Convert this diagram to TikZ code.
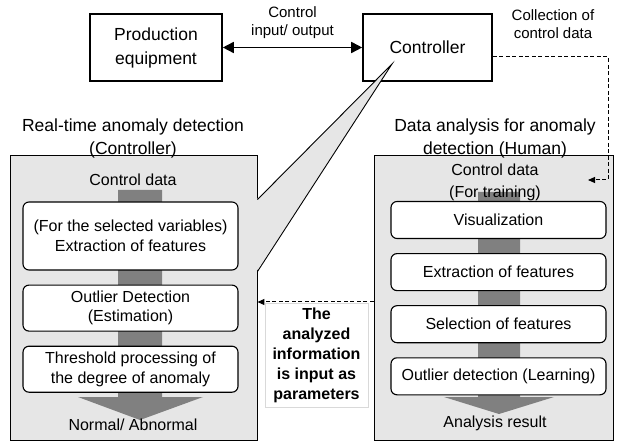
\documentclass[tikz,border=0pt]{standalone}
\usepackage{fontspec}
\setmainfont{Liberation Sans}
\usetikzlibrary{arrows.meta,positioning}

\definecolor{panelgray}{RGB}{230,230,230}
\definecolor{flowgray}{RGB}{128,128,128}

\begin{document}
\begin{tikzpicture}[x=1pt,y=1pt,>={Triangle[length=7pt,width=6pt]},node distance=14pt,
    unit/.style={draw,line width=1.6pt,minimum width=132pt,minimum height=67pt,align=center,font=\fontsize{17.5}{24}\selectfont},
    panel/.style={draw,line width=0.9pt,fill=panelgray,minimum height=285pt},
    stepbox/.style={draw,fill=white,line width=1.1pt,rounded corners=6pt,minimum width=215pt,align=center,font=\fontsize{16}{19.5}\selectfont},
    note/.style={align=center,font=\fontsize{15}{17.5}\selectfont},
    title/.style={align=center,font=\fontsize{17.5}{23}\selectfont},
    feed/.style={dash pattern=on 4pt off 2.5pt,line width=1pt}]

    \useasboundingbox (0,0) rectangle (618,-443);

    % top row
    \node[unit] (prod) at (156,-47.5) {Production\\equipment};
    \node[unit,minimum width=129pt] (ctrl) at (427.5,-47.5) {Controller};
    \draw[{Triangle[length=11pt,width=11pt]}-{Triangle[length=11pt,width=11pt]},line width=1.6pt] (prod) -- node[note,above=5pt] (io) {Control\\input/ output} (ctrl);
    \node[note] (coll) at (553,-24) {Collection of\\control data};

    % the two panels
    \node[panel,minimum width=247pt] (lpanel) at (133.5,-297.5) {};
    \node[panel,minimum width=239pt] (rpanel) at (493.5,-297.5) {};
    \node[title] (ltitle) at (133,-138.5) {Real-time anomaly detection\\(Controller)};
    \node[title] (rtitle) at (495,-138.5) {Data analysis for anomaly\\detection (Human)};

    % callout from the controller
    \coordinate (tip) at (392,-64);
    \coordinate (ctop) at ([yshift=-45pt]lpanel.north east);
    \coordinate (cbot) at ([yshift=-117pt]lpanel.north east);
    \fill[panelgray] (tip) -- ([xshift=-1pt]ctop) -- ([xshift=-1pt]cbot) -- cycle;
    \draw[line width=0.9pt] (ctop) -- (tip) -- (cbot);

    % collection of control data
    \coordinate (cin) at (588,-180);
    \draw[feed,->] ([yshift=-9pt]ctrl.east) -| ([xshift=20pt]cin) -- (cin);

    % gray flow arrows
    \fill[flowgray] (118,-190) |- (78,-397) -- (140,-420) -- (203,-397) -| (162,-190) -- cycle;
    \fill[flowgray] (478,-192) |- (444,-397) -- (499,-414) -- (554,-397) -| (520,-192) -- cycle;

    % real-time detection
    \node (lin) at (133,-180) {\fontsize{16}{19.5}\selectfont Control data};
    \node[stepbox,minimum height=68pt] (ext) at (130.5,-236) {(For the selected variables)\\Extraction of features};
    \node[stepbox,minimum height=46pt] (est) [below=of ext] {Outlier Detection\\(Estimation)};
    \node[stepbox,minimum height=46pt] (thr) [below=of est] {Threshold processing of\\the degree of anomaly};
    \node (lout) at (133,-425) {\fontsize{16}{19.5}\selectfont Normal/ Abnormal};

    % data analysis
    \node[align=center,font=\fontsize{16}{22}\selectfont] (rin) at (495,-182) {Control data\\(For training)};
    \node[stepbox,minimum height=37pt] (vis) at (498.5,-220) {Visualization};
    \node[stepbox,minimum height=37pt] (feat) [below=of vis] {Extraction of features};
    \node[stepbox,minimum height=37pt] (sel) [below=of feat] {Selection of features};
    \node[stepbox,minimum height=37pt] (learn) [below=of sel] {Outlier detection (Learning)};
    \node (rout) at (495,-423) {\fontsize{16}{19.5}\selectfont Analysis result};

    % feedback of parameters
    \draw[feed,->] ([yshift=-4.5pt]rpanel.west) -- ([yshift=-4.5pt]lpanel.east);
    \node[draw=black!15,fill=white,minimum width=103pt,minimum height=104pt,align=center,font=\bfseries\fontsize{16}{20}\selectfont] (param) at (316.5,-355.5) {The\\analyzed\\information\\is input as\\parameters};

\end{tikzpicture}
\end{document}
